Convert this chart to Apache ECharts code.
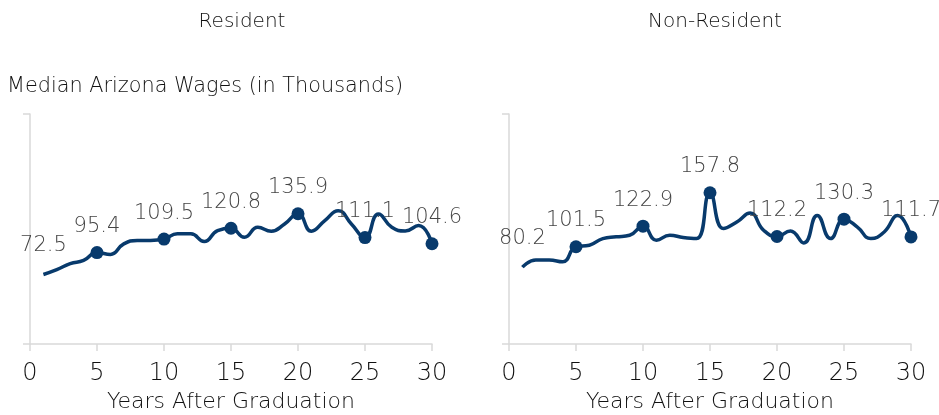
<!DOCTYPE html>
<html>
<head>
<meta charset="utf-8">
<script src="https://cdn.jsdelivr.net/npm/echarts@6/dist/echarts.min.js"></script>
<style>
html,body{margin:0;padding:0;background:#fff;}
#chart{width:939px;height:415px;}
</style>
</head>
<body>
<div id="chart"></div>
<script>
const years = [1,2,3,4,5,6,7,8,9,10,11,12,13,14,15,16,17,18,19,20,21,22,23,24,25,26,27,28,29,30];
const residentWages = [72.5,77.5,83.8,87.2,95.4,93.5,104.5,108,108,109.5,115,115,107,118.4,120.8,111.4,121.8,117.7,125.3,135.9,117.7,128.8,139,125,111.1,135.7,121.8,118,123.6,104.6];
const nonResidentWages = [80.2,87.6,87.6,85.8,101.5,103.1,110,111.8,113.5,122.9,108.3,113.5,111.1,110,157.8,120.4,127.3,136.6,118.7,112.2,118,105.5,134.2,110,130.3,122,110,116.9,134.2,111.7];
const labeledYears = [1,5,10,15,20,25,30];
const dotYears = [5,10,15,20,25,30];
const panelTitles = ['Resident','Non-Resident'];
const yAxisTitle = 'Median Arizona Wages (in Thousands)';
const xAxisTitle = 'Years After Graduation';

const FONT = 'DejaVu Sans';
const FW = 200;
const NAVY = '#083a6c';
const GRAYLINE = '#d9d9d9';
const TXT = '#111';

function buildData(vals){
  return years.map((yr,i)=>{
    const dot = dotYears.includes(yr);
    const lab = labeledYears.includes(yr);
    return {
      value:[yr, vals[i]],
      symbolSize: dot ? 13 : 0,
      label:{show:lab, distance: dot ? 9 : 18}
    };
  });
}

const grids = [
  {left:30, width:402, top:114, height:230, outerBoundsMode:'none', containLabel:false},
  {left:509, width:402, top:114, height:230, outerBoundsMode:'none', containLabel:false}
];

function xAxis(gi){
  return {
    type:'value', gridIndex:gi, min:0, max:30, interval:5,
    axisLine:{show:true, lineStyle:{color:GRAYLINE, width:1.5}},
    axisTick:{show:true, length:7, lineStyle:{color:GRAYLINE, width:1.5}},
    splitLine:{show:false},
    axisLabel:{show:true, margin:18, fontFamily:FONT, fontWeight:FW, fontSize:24, color:TXT},
    name:xAxisTitle, nameLocation:'middle', nameGap:39,
    nameTextStyle:{fontFamily:FONT, fontWeight:FW, fontSize:22, color:TXT}
  };
}
function yAxis(gi){
  return {
    type:'value', gridIndex:gi, min:0, max:240, interval:240,
    axisLine:{show:true, lineStyle:{color:GRAYLINE, width:1.5}},
    axisTick:{show:true, length:7, lineStyle:{color:GRAYLINE, width:1.5}},
    splitLine:{show:false},
    axisLabel:{show:false}
  };
}
function series(gi, vals){
  return {
    type:'line', xAxisIndex:gi, yAxisIndex:gi,
    data:buildData(vals),
    smooth:0.5,
    symbol:'circle',
    showAllSymbol:true,
    lineStyle:{color:NAVY, width:3.5},
    itemStyle:{color:NAVY},
    label:{position:'top', fontFamily:FONT, fontWeight:FW, fontSize:21, color:'#444'},
    emphasis:{disabled:true},
    z:3
  };
}

const chart = echarts.init(document.getElementById('chart'), null, {renderer:'canvas'});
chart.setOption({
  animation:false,
  backgroundColor:'#fff',
  title:[
    {text:panelTitles[0], left:242, top:12, padding:0, textAlign:'center', textStyle:{fontFamily:FONT, fontSize:20, fontWeight:FW, color:TXT}},
    {text:panelTitles[1], left:715, top:12, padding:0, textAlign:'center', textStyle:{fontFamily:FONT, fontSize:20, fontWeight:FW, color:TXT}},
    {text:yAxisTitle, left:7, top:76, padding:0, textStyle:{fontFamily:FONT, fontSize:20.8, fontWeight:FW, color:TXT}}
  ],
  grid:grids,
  xAxis:[xAxis(0), xAxis(1)],
  yAxis:[yAxis(0), yAxis(1)],
  series:[series(0, residentWages), series(1, nonResidentWages)]
});
</script>
</body>
</html>
